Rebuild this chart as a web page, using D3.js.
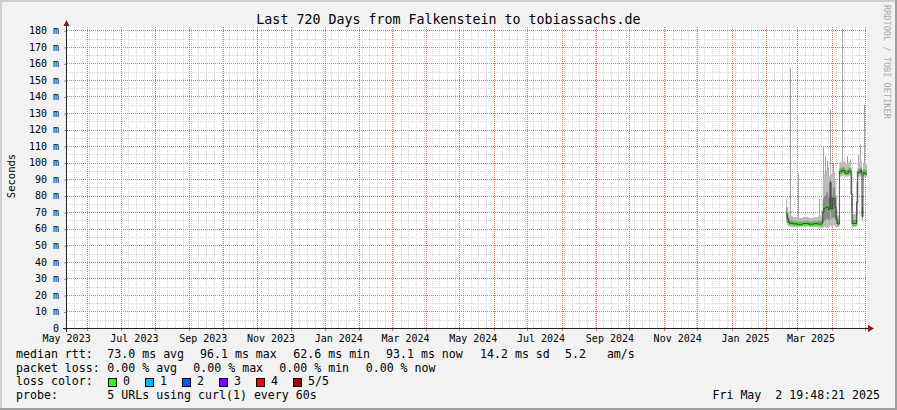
<!DOCTYPE html>
<html><head><meta charset="utf-8">
<script src="https://cdn.jsdelivr.net/npm/d3@7"></script>
<style>
html,body{margin:0;padding:0;background:#f2f2f2;}
svg{display:block;}
text{font-family:"DejaVu Sans Mono",monospace;white-space:pre;}
</style></head><body>
<svg id="chart" width="897" height="410"></svg>
<script>
// ---------- data ----------
const title = "Last 720 Days from Falkenstein to tobiassachs.de";
const yAxisTitle = "Seconds";
const startTime = "2023-05-13T19:48:21Z";
const endTime = "2025-05-02T19:48:21Z";
const yMax = 182;
const yTicks = [0,10,20,30,40,50,60,70,80,90,100,110,120,130,140,150,160,170,180];
const yMinorTicks = [5,15,25,35,45,55,65,75,85,95,105,115,125,135,145,155,165,175];
const labelMonths = ["2023-05","2023-07","2023-09","2023-11","2024-01","2024-03","2024-05","2024-07","2024-09","2024-11","2025-01","2025-03"];

// smoke samples (ms); each sample holds until the next one
const sampleDates = ["2025-02-19T00:00Z","2025-02-20T00:00Z","2025-02-21T00:00Z","2025-02-22T00:00Z","2025-02-25T00:00Z",
  "2025-03-01T00:00Z","2025-03-06T00:00Z","2025-03-11T00:00Z","2025-03-16T00:00Z","2025-03-20T00:00Z","2025-03-23T00:00Z",
  "2025-03-24T00:00Z","2025-03-25T00:00Z","2025-03-27T00:00Z","2025-03-29T00:00Z","2025-03-30T12:00Z","2025-03-31T12:00Z",
  "2025-04-02T00:00Z","2025-04-04T00:00Z","2025-04-05T00:00Z","2025-04-06T00:00Z","2025-04-08T00:00Z","2025-04-10T00:00Z",
  "2025-04-13T00:00Z","2025-04-16T00:00Z","2025-04-18T12:00Z","2025-04-19T12:00Z","2025-04-23T12:00Z","2025-04-24T12:00Z",
  "2025-04-27T00:00Z","2025-04-28T06:00Z","2025-04-29T06:00Z","2025-05-01T00:00Z"];
const medianRtt = [69.5,66,64.2,63.4,63.0, 62.7,63.2,62.8,63.1,62.8,63.5, 70,72.5,73.2,71.5,88,72, 78.5,73,66,63,94.5,95.2, 93.6,95,81,63.2,76,94.2, 95.3,67.5,94,93.1];
const smokeLow  = [63.5,62,61.5,61,61, 61,61.2,61,61.1,60.4,60.3, 60.5,61,60.5,61,62,61, 62,61,61,61,91.5,92, 91.4,92,62,61,62,91.5, 92,64,91.5,91.2];
const smokeQ1   = [66,64,63,62.3,62, 61.9,62.1,61.9,62,61.6,61.8, 63.5,65,66,65,70,66, 67,65,63,62,93,93.6, 92.6,93.4,70,62,68,93, 93.6,66,92.8,92.5];
const smokeQ3   = [73,68.5,66.5,65,64.5, 64.2,64.6,64.3,64.5,64.8,66, 78,80,82,79,90,80, 85,80,71,65,96.5,97, 95.6,96.6,92,65.5,88,96.3, 97,73,96,95.5];
const smokeHigh = [78,73,70,68,67, 66.5,67.2,66.6,67,68,71, 90,93,95,92,97,93, 94,89,80,68,100,101, 99.5,100.5,97,69,95,100, 101,80,99.5,99];

// single-ping maxima (ms)
const spikeDates = ["2025-02-22T02:00Z","2025-03-01T20:00Z","2025-03-21T00:00Z","2025-03-24T06:00Z","2025-03-25T18:00Z",
  "2025-03-27T18:00Z","2025-03-28T18:00Z","2025-03-30T12:00Z","2025-04-02T12:00Z","2025-04-10T18:00Z","2025-04-15T06:00Z",
  "2025-04-17T12:00Z","2025-04-24T18:00Z","2025-04-26T12:00Z","2025-04-30T12:00Z"];
const spikeMax = [157,93.5,78,110,104,101,97,132,99,181,104,102,105,111,135];

const lossLabels = ["0","1","2","3","4","5/5"];
const lossColors = ["#26ff00","#00b8ff","#0059ff","#7e00ff","#ff0000","#a10000"];

const statRow1 = [["median rtt:",16],["73.0 ms avg",107.3],["96.1 ms max",200],["62.6 ms min",293.3],["93.1 ms now",386],["14.2 ms sd",480],["5.2   am/s",565]];
const statRow2 = [["packet loss:",16],["0.00 % avg",107.3],["0.00 % max",193.3],["0.00 % min",279.3],["0.00 % now",365.7]];
const probeText = "5 URLs using curl(1) every 60s";
const stampText = "Fri May  2 19:48:21 2025";
const watermark = "RRDTOOL / TOBI OETIKER";

// ---------- drawing ----------
const W = 897, H = 410;
const P = {left:67, right:867, top:27, bottom:328};
const svg = d3.select("#chart");
const parse = d3.isoParse;
const x = d3.scaleUtc().domain([parse(startTime), parse(endTime)]).range([P.left, P.right]);
const y = d3.scaleLinear().domain([0, yMax]).range([P.bottom, P.top]);
const cr = v => Math.round(v) + 0.5;

// background + shade border
svg.append("rect").attr("width", W).attr("height", H).attr("fill", "#f2f2f2");
svg.append("path").attr("d", `M0,0H${W}V2H2V${H}H0Z`).attr("fill", "#cfcfcf");
svg.append("path").attr("d", `M${W},${H}H0V${H-2}H${W-2}V0H${W}Z`).attr("fill", "#9e9e9e");

// canvas
svg.append("rect").attr("x", P.left).attr("y", P.top).attr("width", P.right - P.left).attr("height", P.bottom - P.top).attr("fill", "#fff");

const grid = svg.append("g").attr("shape-rendering", "crispEdges");
const minorCol = "#d6d6d6", majorCol = "#e87070";
const [t0, t1] = x.domain();
const months = d3.utcMonth.range(d3.utcMonth.ceil(t0), t1);
const monthPx = new Set(months.map(d => Math.round(x(d))));
// vertical minor (weekly)
grid.selectAll("line.vmin").data(d3.utcSaturday.range(t0, t1).filter(d => !monthPx.has(Math.round(x(d))))).join("line")
  .attr("class", "vmin")
  .attr("x1", d => cr(x(d))).attr("x2", d => cr(x(d))).attr("y1", P.top).attr("y2", P.bottom + 1)
  .attr("stroke", minorCol).attr("stroke-dasharray", "1,1");
// horizontal minor
grid.selectAll("line.hmin").data(yMinorTicks).join("line")
  .attr("class", "hmin")
  .attr("x1", P.left - 1).attr("x2", P.right).attr("y1", d => cr(y(d))).attr("y2", d => cr(y(d)))
  .attr("stroke", minorCol).attr("stroke-dasharray", "1,1");
// vertical major (monthly)
grid.selectAll("line.vmaj").data(months).join("line")
  .attr("class", "vmaj")
  .attr("x1", d => cr(x(d))).attr("x2", d => cr(x(d))).attr("y1", P.top).attr("y2", P.bottom)
  .attr("stroke", majorCol).attr("stroke-dasharray", "1,1");
grid.selectAll("line.vtick").data(months).join("line")
  .attr("class", "vtick")
  .attr("x1", d => cr(x(d))).attr("x2", d => cr(x(d))).attr("y1", P.bottom).attr("y2", P.bottom + 3)
  .attr("stroke", majorCol);
// horizontal major
grid.selectAll("line.hmaj").data(yTicks.filter(d => d > 0)).join("line")
  .attr("class", "hmaj")
  .attr("x1", P.left).attr("x2", P.right).attr("y1", d => cr(y(d))).attr("y2", d => cr(y(d)))
  .attr("stroke", majorCol).attr("stroke-dasharray", "1,1");

// data
const rows = sampleDates.map((d, i) => ({t: parse(d), med: medianRtt[i], lo: smokeLow[i], q1: smokeQ1[i], q3: smokeQ3[i], hi: smokeHigh[i]}));
rows.push(Object.assign({}, rows[rows.length - 1], {t: parse(endTime)}));

svg.append("clipPath").attr("id", "plotclip").append("rect")
  .attr("x", P.left).attr("y", P.top).attr("width", P.right - P.left).attr("height", P.bottom - P.top);
const dg = svg.append("g").attr("clip-path", "url(#plotclip)");

const bis = d3.bisector(d => d.t).right;
const spikes = spikeDates.map((d, i) => {
  const t = parse(d); const r = rows[Math.max(0, bis(rows, t) - 1)];
  return {t, v: spikeMax[i], base: r.med};
});
dg.selectAll("line.spike").data(spikes).join("line")
  .attr("class", "spike")
  .attr("x1", d => cr(x(d.t))).attr("x2", d => cr(x(d.t)))
  .attr("y1", d => y(d.base)).attr("y2", d => y(d.v))
  .attr("stroke", "#a3a3a3").attr("stroke-width", 1);

const areaOf = (a, b) => d3.area().x(d => x(d.t)).y0(d => y(d[a])).y1(d => y(d[b])).curve(d3.curveStepAfter);
dg.append("path").datum(rows).attr("d", areaOf("lo", "hi")).attr("fill", "#bcbcbc");
dg.append("path").datum(rows).attr("d", areaOf("q1", "q3")).attr("fill", "#8a8a8a");

dg.append("path").datum(rows)
  .attr("d", d3.area().x(d => x(d.t)).y0(d => y(d.med) + 1.5).y1(d => y(d.med) - 1.5).curve(d3.curveStepAfter))
  .attr("fill", lossColors[0]);
dg.append("path").datum(rows)
  .attr("d", d3.line().x(d => x(d.t)).y(d => y(d.med)).curve(d3.curveStepAfter))
  .attr("fill", "none").attr("stroke", "#202020").attr("stroke-width", 1).attr("stroke-opacity", 0.75);

// axes
const yAxis = d3.axisLeft(y).tickValues(yTicks).tickSize(3).tickPadding(5)
  .tickFormat(d => d === 0 ? "0" : d + " m");
const gy = svg.append("g").attr("transform", `translate(${P.left},0)`).call(yAxis);
gy.select(".domain").remove();
gy.selectAll(".tick line").attr("stroke", majorCol).attr("transform", "translate(0,0.5)");
gy.selectAll(".tick text").attr("font-family", "DejaVu Sans Mono").attr("font-size", 10).attr("fill", "#000");

const labelDates = labelMonths.map(m => d3.utcDay.offset(parse(m + "-01T00:00Z"), 12));
const xAxis = d3.axisBottom(x).tickValues(labelDates).tickSize(0).tickPadding(6.5)
  .tickFormat(d3.utcFormat("%b %Y"));
const gx = svg.append("g").attr("transform", `translate(0,${P.bottom})`).call(xAxis);
gx.select(".domain").remove();
gx.selectAll(".tick text").attr("font-family", "DejaVu Sans Mono").attr("font-size", 10).attr("fill", "#000");

// axis lines and arrows
svg.append("line").attr("x1", P.left - 4).attr("x2", P.right + 2).attr("y1", P.bottom + 0.5).attr("y2", P.bottom + 0.5).attr("stroke", "#202020");
svg.append("line").attr("x1", P.left - 0.5).attr("x2", P.left - 0.5).attr("y1", P.bottom + 4).attr("y2", P.top - 3).attr("stroke", "#202020");
svg.append("path").attr("d", `M${P.right + 1},${P.bottom - 3}L${P.right + 7},${P.bottom + 0.5}L${P.right + 1},${P.bottom + 4}Z`).attr("fill", "#7f1f1f");
svg.append("path").attr("d", `M${P.left - 3.5},${P.top - 1}L${P.left - 0.5},${P.top - 7}L${P.left + 2.5},${P.top - 1}Z`).attr("fill", "#7f1f1f");

// titles
svg.append("text").attr("x", 448.5).attr("y", 24).attr("text-anchor", "middle").attr("font-size", 13.3).text(title);
svg.append("text").attr("transform", "translate(15,176) rotate(-90)").attr("text-anchor", "middle").attr("font-size", 10.5).text(yAxisTitle);
svg.append("text").attr("transform", "translate(884,5) rotate(90)").attr("font-size", 8.6).attr("fill", "#ababab").text(watermark);

// legend
const lg = svg.append("g").attr("font-size", 11.6).attr("fill", "#000");
const rowY = [357.7, 371.5, 385.3, 399];
statRow1.forEach(([t, px]) => lg.append("text").attr("x", px).attr("y", rowY[0]).text(t));
statRow2.forEach(([t, px]) => lg.append("text").attr("x", px).attr("y", rowY[1]).text(t));
lg.append("text").attr("x", 16).attr("y", rowY[2]).text("loss color:");
const boxX = [108.5, 145.5, 182.5, 219.5, 256.5, 293.5];
lossLabels.forEach((l, i) => {
  lg.append("rect").attr("x", boxX[i]).attr("y", 378.5).attr("width", 8).attr("height", 8)
    .attr("fill", lossColors[i]).attr("stroke", "#000");
  lg.append("text").attr("x", boxX[i] + 14.5).attr("y", rowY[2]).text(l);
});
lg.append("text").attr("x", 16).attr("y", rowY[3]).text("probe:");
lg.append("text").attr("x", 107.3).attr("y", rowY[3]).text(probeText);
lg.append("text").attr("x", 880).attr("y", rowY[3]).attr("text-anchor", "end").text(stampText);
</script>
</body></html>
